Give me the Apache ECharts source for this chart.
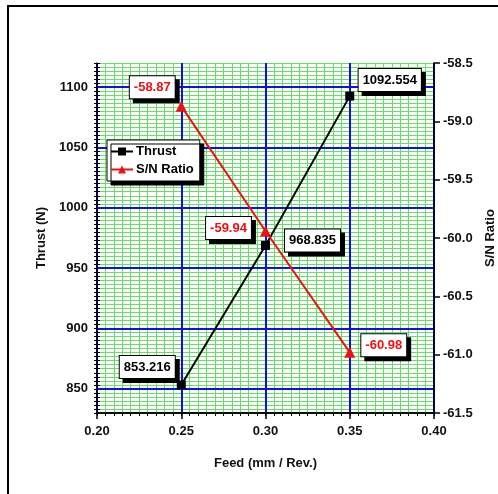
<!DOCTYPE html>
<html>
<head>
<meta charset="utf-8">
<script src="https://cdn.jsdelivr.net/npm/echarts@6/dist/echarts.min.js"></script>
<style>
html,body{margin:0;padding:0;background:#fff;}
#chart{width:498px;height:494px;}
</style>
</head>
<body>
<div id="chart"></div>
<script>
// ---- data ----
var feeds = [0.25, 0.30, 0.35];
var thrust = [853.216, 968.835, 1092.554];
var snRatio = [-58.87, -59.94, -60.98];
var xTicks = [0.20, 0.25, 0.30, 0.35, 0.40];
var leftTicks = [850, 900, 950, 1000, 1050, 1100];
var rightTicks = [-61.5, -61.0, -60.5, -60.0, -59.5, -59.0, -58.5];

// ---- styling ----
var FONT = '"Liberation Sans", Arial, sans-serif';
var FS = 13;
var GREEN = '#66dd66';
var BLUE = '#1010e0';
var thrustOffsets = [[-34, -18], [47, -5], [40, -16]];
var snOffsets = [[-29, -19], [-37, -3], [34, -7]];

function boxLabel(color) {
  return {
    show: true,
    position: 'inside',
    color: color,
    fontFamily: FONT,
    fontWeight: 'bold',
    fontSize: FS,
    backgroundColor: '#fff',
    borderColor: '#000',
    borderWidth: 1,
    padding: [5, 4, 4, 4],
    shadowColor: '#000',
    shadowOffsetX: 4,
    shadowOffsetY: 4,
    shadowBlur: 0
  };
}

var thrustData = feeds.map(function (f, i) {
  return { value: [f, thrust[i]], label: { offset: thrustOffsets[i] } };
});
var snData = feeds.map(function (f, i) {
  return { value: [f, snRatio[i]], label: { offset: snOffsets[i] } };
});

var leftMin = 830, leftMax = 1120;
// split line colour cycle so that only multiples of 50 are blue
var leftColors = [];
for (var k = 0; k < 5; k++) leftColors.push(((leftMin + 10 * k) % 50 === 0) ? BLUE : 'rgba(0,0,0,0)');

var axisText = { color: '#111', fontFamily: FONT, fontWeight: 'bold', fontSize: FS };
var gridRect = { left: 97, right: 64, top: 63, bottom: 81, outerBoundsMode: 'none', containLabel: false };

var chart = echarts.init(document.getElementById('chart'));
chart.setOption({
  animation: false,
  backgroundColor: '#fff',
  graphic: [{
    type: 'rect',
    shape: { x: 8, y: 6, width: 700, height: 700 },
    style: { fill: 'none', stroke: '#000', lineWidth: 2 },
    z: 100
  }],
  grid: [Object.assign({}, gridRect), Object.assign({}, gridRect)],
  legend: {
    data: ['Thrust', 'S/N Ratio'],
    orient: 'vertical',
    left: 107,
    top: 140,
    itemWidth: 22,
    itemHeight: 10,
    itemGap: 5,
    padding: [5, 6, 5, 3],
    backgroundColor: '#fff',
    borderColor: '#000',
    borderWidth: 1,
    shadowColor: '#000',
    shadowOffsetX: 4,
    shadowOffsetY: 4,
    shadowBlur: 0,
    textStyle: { color: '#000', fontFamily: FONT, fontWeight: 'bold', fontSize: FS, padding: [0, 0, 0, -2] },
    z: 20
  },
  xAxis: [{
    type: 'value', gridIndex: 0,
    min: xTicks[0], max: xTicks[xTicks.length - 1], interval: 0.05,
    z: 3,
    name: 'Feed (mm / Rev.)',
    nameLocation: 'middle',
    nameGap: 44,
    nameTextStyle: axisText,
    axisLine: { lineStyle: { color: '#000', width: 1.5 } },
    axisTick: { show: true, length: 6, lineStyle: { color: '#000', width: 1.5 } },
    axisLabel: Object.assign({ margin: 12, formatter: function (v) { return v.toFixed(2); } }, axisText),
    splitLine: { show: true, lineStyle: { color: BLUE, width: 2 } }
  }, {
    type: 'value', gridIndex: 1, position: 'bottom', min: 0, max: 40, interval: 1, z: 1,
    axisLine: { show: false },
    axisLabel: { show: false },
    axisTick: { show: true, length: 3, lineStyle: { color: '#000' } },
    splitLine: { show: true, lineStyle: { color: GREEN, width: 1 } }
  }, {
    type: 'value', gridIndex: 1, position: 'top', min: 0, max: 40, interval: 1, z: 3,
    axisLine: { show: true, lineStyle: { color: '#000', width: 1.5 } },
    axisLabel: { show: false },
    axisTick: { show: true, inside: true, length: 3, lineStyle: { color: '#000' } },
    splitLine: { show: false }
  }],
  yAxis: [{
    type: 'value', gridIndex: 0,
    position: 'left',
    min: leftMin, max: leftMax, interval: 10,
    z: 3,
    name: 'Thrust (N)',
    nameLocation: 'middle',
    nameRotate: 90,
    nameGap: 44,
    nameTextStyle: axisText,
    axisLine: { show: true, lineStyle: { color: '#000', width: 1.5 } },
    axisTick: { show: false },
    axisLabel: Object.assign({
      margin: 9,
      formatter: function (v) { return leftTicks.indexOf(v) >= 0 ? String(v) : ''; }
    }, axisText),
    splitLine: { show: true, lineStyle: { color: leftColors, width: 2 } }
  }, {
    type: 'value', gridIndex: 0,
    position: 'right',
    min: rightTicks[0], max: rightTicks[rightTicks.length - 1], interval: 0.5,
    z: 3,
    name: 'S/N Ratio',
    nameLocation: 'middle',
    nameRotate: 90,
    nameGap: 42,
    nameTextStyle: axisText,
    axisLine: { show: true, lineStyle: { color: '#000', width: 1.5 } },
    axisTick: { show: true, length: 6, lineStyle: { color: '#000', width: 1.5 } },
    axisLabel: Object.assign({ margin: 9, formatter: function (v) { return v.toFixed(1); } }, axisText),
    splitLine: { show: false }
  }, {
    type: 'value', gridIndex: 1, position: 'left', min: 0, max: 87, interval: 1, z: 1,
    axisLine: { show: false },
    axisLabel: { show: false },
    axisTick: { show: true, length: 3, lineStyle: { color: '#000' } },
    splitLine: { show: true, lineStyle: { color: GREEN, width: 1 } }
  }, {
    type: 'value', gridIndex: 1, position: 'right', min: 0, max: 87, interval: 1, z: 1,
    axisLine: { show: false },
    axisLabel: { show: false },
    axisTick: { show: true, length: 3, lineStyle: { color: '#000' } },
    splitLine: { show: false }
  }],
  series: [{
    name: 'Thrust',
    type: 'line',
    xAxisIndex: 0, yAxisIndex: 0,
    z: 10,
    data: thrustData,
    symbol: 'rect',
    symbolSize: 9,
    itemStyle: { color: '#000' },
    lineStyle: { color: '#000', width: 2 },
    label: Object.assign(boxLabel('#000'), { formatter: function (p) { return p.value[1].toFixed(3); } })
  }, {
    name: 'S/N Ratio',
    type: 'line',
    xAxisIndex: 0, yAxisIndex: 1,
    z: 10,
    data: snData,
    symbol: 'triangle',
    symbolSize: 11,
    itemStyle: { color: '#ee1111' },
    lineStyle: { color: '#ee1111', width: 2 },
    label: Object.assign(boxLabel('#ee1111'), { formatter: function (p) { return p.value[1].toFixed(2); } })
  }]
});
</script>
</body>
</html>
